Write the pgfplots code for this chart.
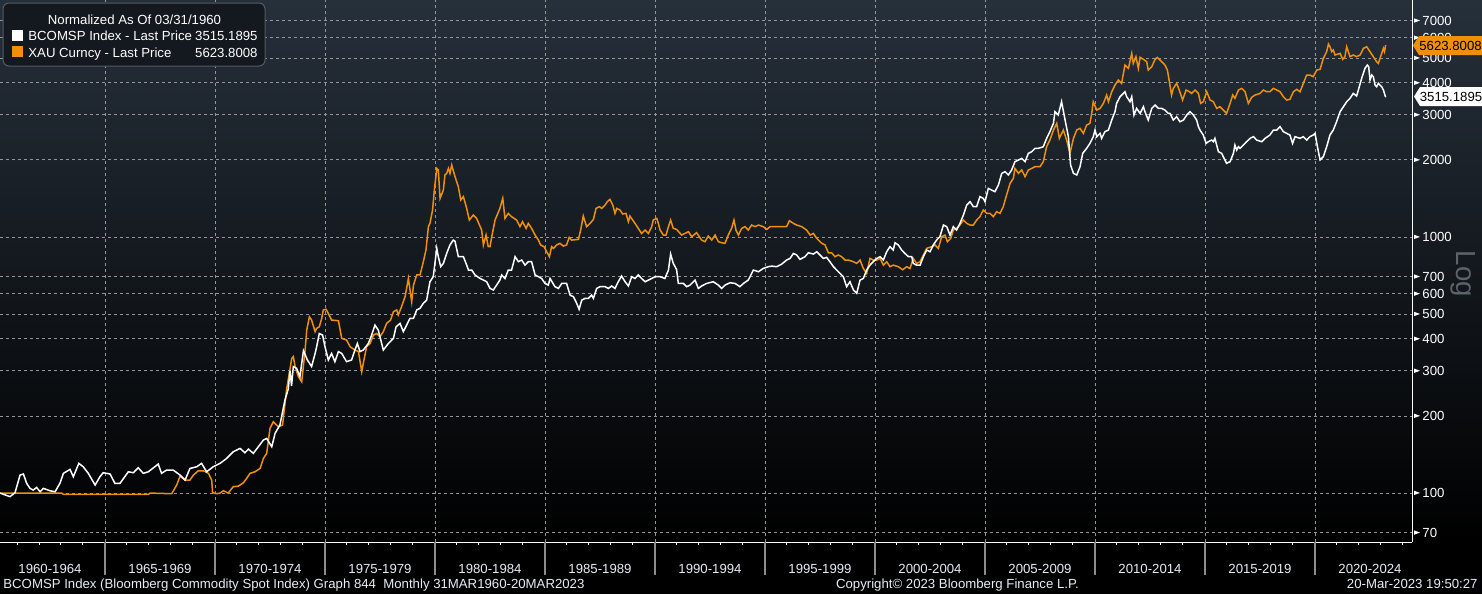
\documentclass[border=0pt]{standalone}
\usepackage{fontspec}
\setmainfont{Liberation Sans}
\usepackage{pgfplots}
\pgfplotsset{compat=1.18}
\definecolor{goldc}{RGB}{240,144,10}
\definecolor{gridc}{RGB}{150,150,150}
\definecolor{bgtop}{RGB}{38,48,59}
\definecolor{sepc}{RGB}{140,140,140}
\definecolor{logc}{RGB}{92,99,107}
\definecolor{legfill}{RGB}{20,25,31}
\definecolor{legdraw}{RGB}{85,90,96}
\definecolor{txtc}{RGB}{232,236,245}
\newcommand{\lf}{\fontsize{6.6}{7.5}\selectfont}
\newcommand{\tri}{\tikz[baseline=0pt]\fill[white] (0,1.25pt)--(0,3.45pt)--(3pt,2.35pt)--cycle;}
\begin{document}
\begin{tikzpicture}
\begin{scope}[x=0.5pt,y=-0.5pt]
\fill[black] (0,0) rectangle (1482,594);
\shade[top color=bgtop, bottom color=black] (0,0) rectangle (1482,542);
\end{scope}
\begin{axis}[
 at={(0,0)}, anchor=north west,
 scale only axis, width=706pt, height=271pt,
 xmin=1960.227, xmax=2024.409,
 ymode=log, ymin=64.4, ymax=8431,
 axis x line*=bottom, axis y line*=right,
 axis line style={white, line width=0.5pt, -},
 tick align=outside,
 major tick length=0pt, minor tick length=1.5pt,
 xtick={1962.5,1967.5,1972.5,1977.5,1982.5,1987.5,1992.5,1997.5,2002.5,2007.5,2012.5,2017.5,2022.5},
 xticklabels={1960-1964,1965-1969,1970-1974,1975-1979,1980-1984,1985-1989,1990-1994,1995-1999,2000-2004,2005-2009,2010-2014,2015-2019,2020-2024},
 major x tick style={draw=none},
 minor xtick={1961,1962,...,2024},
 minor x tick style={white, line width=0.5pt},
 extra x ticks={1965,1970,1975,1980,1985,1990,1995,2000,2005,2010,2015,2020},
 extra x tick labels={},
 extra x tick style={xmajorgrids=true, major tick length=16.5pt, major x tick style={draw=sepc, line width=0.6pt}},
 xticklabel style={anchor=base, yshift=-15.5pt, font=\lf, text=txtc},
 ytick={70,100,200,300,400,500,600,700,1000,2000,3000,4000,5000,6000,7000},
 yticklabels={\tri\hspace{1.2pt}70,\tri\hspace{1.2pt}100,\tri\hspace{1.2pt}200,\tri\hspace{1.2pt}300,\tri\hspace{1.2pt}400,\tri\hspace{1.2pt}500,\tri\hspace{1.2pt}600,\tri\hspace{1.2pt}700,\tri\hspace{1.2pt}1000,\tri\hspace{1.2pt}2000,\tri\hspace{1.2pt}3000,\tri\hspace{1.2pt}4000,\tri\hspace{1.2pt}5000,\tri\hspace{1.2pt}6000,\tri\hspace{1.2pt}7000},
 ytick style={draw=none}, minor y tick style={draw=none},
 yticklabel style={anchor=west, inner sep=0pt, xshift=0.8pt, font=\lf, text=white},
 ymajorgrids=true,
 major grid style={gridc, line width=0.5pt, dash pattern=on 1.5pt off 1.5pt},
]
\addplot[goldc, line width=0.75pt] coordinates {
(1960.23,100) (1963.03,100) (1963.11,98.8) (1966.97,98.8) (1967.05,100) (1968.03,99.4) (1968.26,107.5) (1968.41,116.5) (1968.64,112.4) (1968.86,112.4) (1969.02,117.6) (1969.24,122.2) (1969.47,122.2) (1969.70,119.4) (1969.85,112.4) (1969.89,100.3) (1970.07,99.4) (1970.23,100) (1970.38,102.1) (1970.60,100) (1970.83,105.9) (1971.06,106.4) (1971.29,109.7) (1971.44,114.1) (1971.59,119.4) (1971.82,121.1) (1972.05,124.8) (1972.20,136.6) (1972.35,142.9) (1972.50,178.9) (1972.65,189.9) (1972.88,181.5) (1973.07,184.4) (1973.26,256) (1973.49,336) (1973.56,341) (1973.64,312) (1973.79,285) (1973.94,272) (1974.09,357) (1974.17,433) (1974.29,488) (1974.39,474) (1974.55,427) (1974.62,440) (1974.74,446) (1974.85,481) (1974.92,519) (1975.05,522) (1975.15,503) (1975.30,474) (1975.61,471) (1975.76,402) (1975.98,396) (1976.14,373) (1976.36,362) (1976.52,357) (1976.67,298) (1976.74,321) (1976.89,373) (1977.05,384) (1977.20,414) (1977.35,420) (1977.50,408) (1977.65,427) (1977.80,460) (1977.98,474) (1978.11,511) (1978.26,519) (1978.33,496) (1978.48,535) (1978.64,585) (1978.79,689) (1978.94,559) (1979.02,649) (1979.17,711) (1979.32,711) (1979.47,801) (1979.59,890) (1979.70,1098) (1979.77,1131) (1979.89,1275) (1979.97,1526) (1980.08,1854) (1980.15,1827) (1980.23,1416) (1980.38,1526) (1980.45,1747) (1980.53,1773) (1980.61,1854) (1980.68,1773) (1980.76,1911) (1980.91,1721) (1981.06,1573) (1981.17,1395) (1981.29,1438) (1981.44,1294) (1981.56,1165) (1981.74,1219) (1981.89,1183) (1982.12,1065) (1982.20,931) (1982.32,1018) (1982.42,917) (1982.50,917) (1982.58,1003) (1982.73,1165) (1982.95,1294) (1983.08,1416) (1983.18,1183) (1983.33,1237) (1983.48,1201) (1983.71,1165) (1983.86,1098) (1983.98,1148) (1984.14,1081) (1984.24,1131) (1984.39,1081) (1984.55,1018) (1984.70,973) (1984.80,931) (1984.95,917) (1985.08,876) (1985.20,838) (1985.30,917) (1985.38,903) (1985.53,931) (1985.68,945) (1985.83,922) (1985.98,931) (1986.10,997) (1986.21,973) (1986.52,979) (1986.62,1065) (1986.74,1208) (1986.89,1098) (1987.05,1131) (1987.20,1172) (1987.32,1294) (1987.47,1314) (1987.58,1294) (1987.73,1334) (1987.83,1374) (1987.95,1403) (1988.08,1334) (1988.18,1237) (1988.26,1294) (1988.41,1275) (1988.53,1230) (1988.68,1237) (1988.79,1148) (1988.86,1208) (1989.09,1131) (1989.24,1081) (1989.39,1033) (1989.55,1065) (1989.70,1033) (1989.85,1098) (1989.92,1165) (1990.08,1183) (1990.15,1131) (1990.23,1065) (1990.38,1018) (1990.50,1018) (1990.61,1098) (1990.71,1165) (1990.83,1081) (1990.98,1071) (1991.21,1018) (1991.36,1033) (1991.52,1049) (1991.67,1003) (1991.89,1040) (1992.12,973) (1992.27,959) (1992.42,1009) (1992.58,973) (1992.73,1018) (1992.88,959) (1993.03,950) (1993.18,945) (1993.33,1018) (1993.48,1081) (1993.59,1165) (1993.68,1065) (1993.79,1018) (1993.94,1081) (1994.09,1098) (1994.24,1065) (1994.39,1114) (1994.55,1098) (1994.70,1114) (1994.92,1098) (1995.08,1071) (1995.23,1098) (1995.53,1098) (1995.98,1098) (1996.11,1158) (1996.29,1131) (1996.44,1114) (1996.67,1098) (1996.89,1065) (1997.05,1018) (1997.20,1033) (1997.35,988) (1997.58,945) (1997.73,931) (1997.88,868) (1998.03,868) (1998.18,838) (1998.33,851) (1998.48,838) (1998.64,813) (1998.79,813) (1999.02,801) (1999.17,789) (1999.32,813) (1999.47,754) (1999.62,721) (1999.77,825) (1999.92,813) (2000.08,813) (2000.23,825) (2000.38,777) (2000.53,801) (2000.68,766) (2000.83,777) (2001.06,766) (2001.26,745) (2001.44,766) (2001.59,754) (2001.74,825) (2001.89,789) (2002.05,801) (2002.20,851) (2002.35,903) (2002.58,917) (2002.73,931) (2002.88,903) (2003.03,1003) (2003.18,1018) (2003.29,959) (2003.44,988) (2003.56,1065) (2003.71,1081) (2003.86,1114) (2004.02,1165) (2004.17,1131) (2004.32,1114) (2004.47,1114) (2004.62,1165) (2004.77,1201) (2004.92,1275) (2005.08,1237) (2005.23,1237) (2005.38,1201) (2005.53,1256) (2005.68,1237) (2005.83,1314) (2005.98,1459) (2006.14,1621) (2006.29,1695) (2006.36,1854) (2006.52,1773) (2006.67,1827) (2006.82,1721) (2006.97,1827) (2007.12,1854) (2007.27,1883) (2007.50,1883) (2007.65,1970) (2007.80,2253) (2007.95,2392) (2008.11,2618) (2008.26,2780) (2008.38,2429) (2008.56,2618) (2008.71,2392) (2008.86,2122) (2009.02,2429) (2009.17,2618) (2009.32,2658) (2009.47,2541) (2009.62,2738) (2009.77,2780) (2009.85,3041) (2009.92,3377) (2010.08,3134) (2010.23,3180) (2010.38,3327) (2010.53,3586) (2010.61,3377) (2010.76,3695) (2010.91,3925) (2011.06,4105) (2011.21,3984) (2011.36,4697) (2011.52,4558) (2011.67,5217) (2011.74,4768) (2011.86,5063) (2011.97,4558) (2012.05,5033) (2012.20,4943) (2012.35,4840) (2012.42,4490) (2012.58,4627) (2012.73,4943) (2012.83,5033) (2013.03,4840) (2013.18,4697) (2013.29,4490) (2013.38,4044) (2013.48,3586) (2013.56,3808) (2013.71,3984) (2013.83,3752) (2013.98,3428) (2014.14,3752) (2014.29,3695) (2014.39,3640) (2014.55,3752) (2014.70,3640) (2014.80,3327) (2014.92,3377) (2015.08,3695) (2015.23,3428) (2015.38,3377) (2015.53,3180) (2015.68,3229) (2015.83,3134) (2015.98,3041) (2016.14,3327) (2016.26,3586) (2016.36,3481) (2016.52,3752) (2016.67,3808) (2016.82,3695) (2016.97,3327) (2017.12,3512) (2017.27,3586) (2017.50,3640) (2017.65,3752) (2017.80,3695) (2017.95,3695) (2018.11,3808) (2018.26,3752) (2018.41,3695) (2018.56,3533) (2018.71,3428) (2018.86,3450) (2019.02,3695) (2019.17,3774) (2019.32,3695) (2019.47,3984) (2019.62,4293) (2019.77,4293) (2019.92,4230) (2020.08,4490) (2020.23,4518) (2020.38,4988) (2020.53,5297) (2020.61,5673) (2020.68,5538) (2020.76,5297) (2020.83,5377) (2020.91,5140) (2021.14,5217) (2021.26,4943) (2021.36,5063) (2021.44,5538) (2021.59,5063) (2021.74,5140) (2021.89,5063) (2022.05,5140) (2022.20,5458) (2022.35,5538) (2022.50,5297) (2022.65,5063) (2022.80,4840) (2022.88,4768) (2023.03,5217) (2023.11,5458) (2023.16,5297) (2023.21,5623.8)
};
\addplot[white, line width=0.75pt] coordinates {
(1960.23,100) (1960.68,96.8) (1960.91,100.3) (1961.14,117.6) (1961.29,118.7) (1961.44,109.1) (1961.59,104.3) (1961.74,102.7) (1961.89,105.2) (1962.05,101.2) (1962.20,104.3) (1962.50,102.1) (1962.73,101.2) (1962.95,109.1) (1963.11,119.4) (1963.41,123.7) (1963.56,115.8) (1963.81,130.6) (1964.01,126.7) (1964.24,119.4) (1964.55,107.5) (1964.77,115.8) (1964.92,120.1) (1965.23,118.7) (1965.45,109.1) (1965.68,109.1) (1966.06,121.1) (1966.29,120.1) (1966.51,125.6) (1966.74,119.4) (1966.97,121.1) (1967.42,129.8) (1967.57,119.4) (1967.80,123.0) (1968.10,123.0) (1968.41,117.6) (1968.64,112.4) (1968.86,124.8) (1969.17,126.7) (1969.39,130.6) (1969.62,121.1) (1969.92,126.7) (1970.23,130.6) (1970.53,136.6) (1970.83,145.0) (1971.14,149.4) (1971.36,143.7) (1971.52,148.5) (1971.74,142.9) (1971.97,151.7) (1972.20,161.1) (1972.35,163.5) (1972.58,151.7) (1972.73,171.1) (1972.95,184.4) (1973.18,231) (1973.33,255) (1973.41,300) (1973.48,262) (1973.56,312) (1973.71,307) (1973.86,285) (1974.02,360) (1974.20,331) (1974.39,312) (1974.55,351) (1974.62,373) (1974.74,420) (1974.89,414) (1975.00,373) (1975.15,331) (1975.30,351) (1975.45,326) (1975.61,357) (1975.76,351) (1975.98,326) (1976.21,331) (1976.36,362) (1976.47,384) (1976.59,357) (1976.74,362) (1976.97,384) (1977.12,414) (1977.27,453) (1977.42,433) (1977.50,408) (1977.65,362) (1977.88,384) (1978.11,402) (1978.23,446) (1978.41,460) (1978.56,427) (1978.71,453) (1978.86,481) (1979.02,481) (1979.17,519) (1979.32,527) (1979.47,551) (1979.62,567) (1979.77,669) (1979.92,700) (1980.08,903) (1980.15,838) (1980.26,766) (1980.38,789) (1980.53,863) (1980.68,931) (1980.83,973) (1980.91,963) (1981.06,838) (1981.29,838) (1981.44,777) (1981.52,743) (1981.67,743) (1981.82,711) (1982.05,689) (1982.20,679) (1982.35,669) (1982.50,630) (1982.65,621) (1982.80,649) (1982.95,679) (1983.03,711) (1983.18,689) (1983.33,743) (1983.48,743) (1983.64,838) (1983.79,801) (1983.94,813) (1984.09,777) (1984.24,801) (1984.39,801) (1984.55,711) (1984.70,700) (1984.85,689) (1985.00,659) (1985.15,649) (1985.23,689) (1985.45,640) (1985.61,630) (1985.76,659) (1985.98,659) (1986.14,593) (1986.29,585) (1986.44,551) (1986.55,522) (1986.67,567) (1986.82,576) (1986.97,576) (1987.12,593) (1987.20,576) (1987.35,630) (1987.50,640) (1987.73,640) (1987.88,630) (1988.03,644) (1988.18,630) (1988.33,669) (1988.48,704) (1988.64,669) (1988.79,644) (1988.94,700) (1989.09,689) (1989.24,711) (1989.39,689) (1989.55,669) (1989.70,679) (1989.85,689) (1990.00,700) (1990.23,700) (1990.45,689) (1990.61,743) (1990.71,858) (1990.83,789) (1990.98,747) (1991.06,659) (1991.29,659) (1991.44,640) (1991.59,649) (1991.82,679) (1991.97,630) (1992.12,644) (1992.35,659) (1992.65,669) (1992.88,649) (1993.03,630) (1993.18,649) (1993.41,663) (1993.64,659) (1993.86,640) (1994.02,659) (1994.24,679) (1994.47,743) (1994.70,732) (1994.92,754) (1995.15,766) (1995.30,770) (1995.53,766) (1995.76,784) (1995.98,813) (1996.14,825) (1996.29,863) (1996.44,851) (1996.59,818) (1996.82,838) (1996.97,868) (1997.20,858) (1997.35,876) (1997.50,851) (1997.65,825) (1997.80,833) (1997.95,801) (1998.11,766) (1998.26,743) (1998.41,721) (1998.56,700) (1998.71,640) (1998.86,669) (1999.02,621) (1999.17,603) (1999.32,679) (1999.47,689) (1999.62,743) (1999.77,777) (1999.92,801) (2000.08,825) (2000.23,838) (2000.38,813) (2000.53,876) (2000.68,917) (2000.83,890) (2000.91,950) (2001.06,931) (2001.21,890) (2001.36,863) (2001.52,838) (2001.67,838) (2001.74,789) (2001.89,777) (2002.05,777) (2002.20,838) (2002.35,890) (2002.50,876) (2002.65,931) (2002.80,973) (2002.95,1003) (2003.11,1114) (2003.26,1098) (2003.41,1018) (2003.56,1098) (2003.71,1065) (2003.86,1131) (2004.02,1219) (2004.17,1334) (2004.32,1374) (2004.47,1314) (2004.62,1314) (2004.77,1438) (2004.92,1416) (2005.00,1374) (2005.15,1549) (2005.30,1526) (2005.45,1503) (2005.61,1597) (2005.76,1773) (2005.91,1800) (2006.06,1747) (2006.21,1827) (2006.36,1970) (2006.52,2000) (2006.67,2029) (2006.82,1970) (2006.97,2122) (2007.12,2154) (2007.27,2220) (2007.42,2220) (2007.65,2253) (2007.80,2429) (2007.95,2580) (2008.11,2780) (2008.18,3087) (2008.33,2996) (2008.48,3377) (2008.64,2864) (2008.79,2466) (2008.89,1911) (2009.02,1773) (2009.17,1747) (2009.32,1883) (2009.44,2122) (2009.62,2220) (2009.77,2322) (2009.92,2466) (2010.00,2618) (2010.08,2466) (2010.23,2541) (2010.30,2429) (2010.45,2580) (2010.61,2618) (2010.76,2864) (2010.91,3087) (2010.98,3327) (2011.14,3533) (2011.29,3640) (2011.36,3695) (2011.44,3533) (2011.59,3377) (2011.67,3533) (2011.77,2996) (2011.89,3180) (2012.05,3041) (2012.20,3229) (2012.27,3087) (2012.42,2864) (2012.58,3180) (2012.73,3278) (2012.88,3180) (2013.03,3180) (2013.18,3134) (2013.33,3041) (2013.41,3041) (2013.56,2864) (2013.71,2952) (2013.86,2821) (2014.02,2864) (2014.17,2996) (2014.32,3087) (2014.47,2996) (2014.62,2864) (2014.70,2698) (2014.77,2618) (2014.92,2503) (2015.05,2322) (2015.15,2357) (2015.30,2392) (2015.38,2357) (2015.45,2429) (2015.53,2287) (2015.61,2154) (2015.76,2122) (2015.83,2060) (2015.98,1941) (2016.14,1970) (2016.29,2122) (2016.36,2287) (2016.44,2187) (2016.52,2253) (2016.59,2220) (2016.74,2287) (2016.89,2357) (2017.05,2429) (2017.20,2466) (2017.35,2392) (2017.58,2357) (2017.73,2429) (2017.95,2503) (2018.11,2618) (2018.26,2618) (2018.41,2698) (2018.56,2580) (2018.71,2541) (2018.86,2503) (2018.98,2322) (2019.09,2466) (2019.32,2429) (2019.47,2466) (2019.62,2392) (2019.77,2466) (2019.92,2503) (2020.00,2541) (2020.11,2253) (2020.23,2000) (2020.38,2060) (2020.53,2253) (2020.68,2503) (2020.83,2618) (2020.98,2821) (2021.14,3087) (2021.29,3229) (2021.44,3377) (2021.59,3481) (2021.74,3640) (2021.89,3554) (2021.97,3752) (2022.12,4166) (2022.27,4558) (2022.38,4697) (2022.44,4627) (2022.50,4105) (2022.58,4293) (2022.65,4230) (2022.73,3925) (2022.80,3866) (2022.88,3984) (2022.95,3925) (2023.03,3866) (2023.11,3752) (2023.21,3515.19)
};
\end{axis}
\begin{scope}[x=0.5pt,y=-0.5pt]
% legend
\draw[legdraw, fill=legfill, rounded corners=3, line width=0.5pt] (3,3) rectangle (265,66);
\node[anchor=base, text=white, font=\lf, inner sep=0pt] at (134.5,24.5) {Normalized As Of 03/31/1960};
\fill[white] (12,29.5) rectangle (23,40.5);
\fill[goldc] (12,46) rectangle (23,57);
\node[anchor=base west, text=white, font=\lf, inner sep=0pt] at (28,40.5) {BCOMSP Index - Last Price};
\node[anchor=base east, text=white, font=\lf, inner sep=0pt] at (258,40.5) {3515.1895};
\node[anchor=base west, text=white, font=\lf, inner sep=0pt] at (28,57) {XAU Curncy - Last Price};
\node[anchor=base east, text=white, font=\lf, inner sep=0pt] at (258,57) {5623.8008};
% price tags
\fill[goldc] (1413,45.5) -- (1419,36) -- (1482,36) -- (1482,55) -- (1419,55) -- cycle;
\node[text=black, font=\lf, inner sep=0pt] at (1450.5,45.5) {5623.8008};
\fill[white] (1414,96.5) -- (1420,87) -- (1482,87) -- (1482,106) -- (1420,106) -- cycle;
\node[text=black, font=\lf, inner sep=0pt] at (1451,96.5) {3515.1895};
% Log
\node[rotate=-90, text=logc, font=\fontsize{13.8}{15}\selectfont, inner sep=0pt] at (1463,274) {Log};
% footer
\node[anchor=base west, text=txtc, font=\lf, inner sep=0pt] at (3,588.5) {BCOMSP Index (Bloomberg Commodity Spot Index) Graph 844\ \ Monthly 31MAR1960-20MAR2023};
\node[anchor=base, text=txtc, font=\lf, inner sep=0pt] at (957.5,588.5) {Copyright© 2023 Bloomberg Finance L.P.};
\node[anchor=base east, text=txtc, font=\lf, inner sep=0pt] at (1478,588.5) {20-Mar-2023 19:50:27};
\end{scope}
\pgfresetboundingbox
\path[use as bounding box] (0,0) rectangle (741pt,-297pt);
\end{tikzpicture}
\end{document}
